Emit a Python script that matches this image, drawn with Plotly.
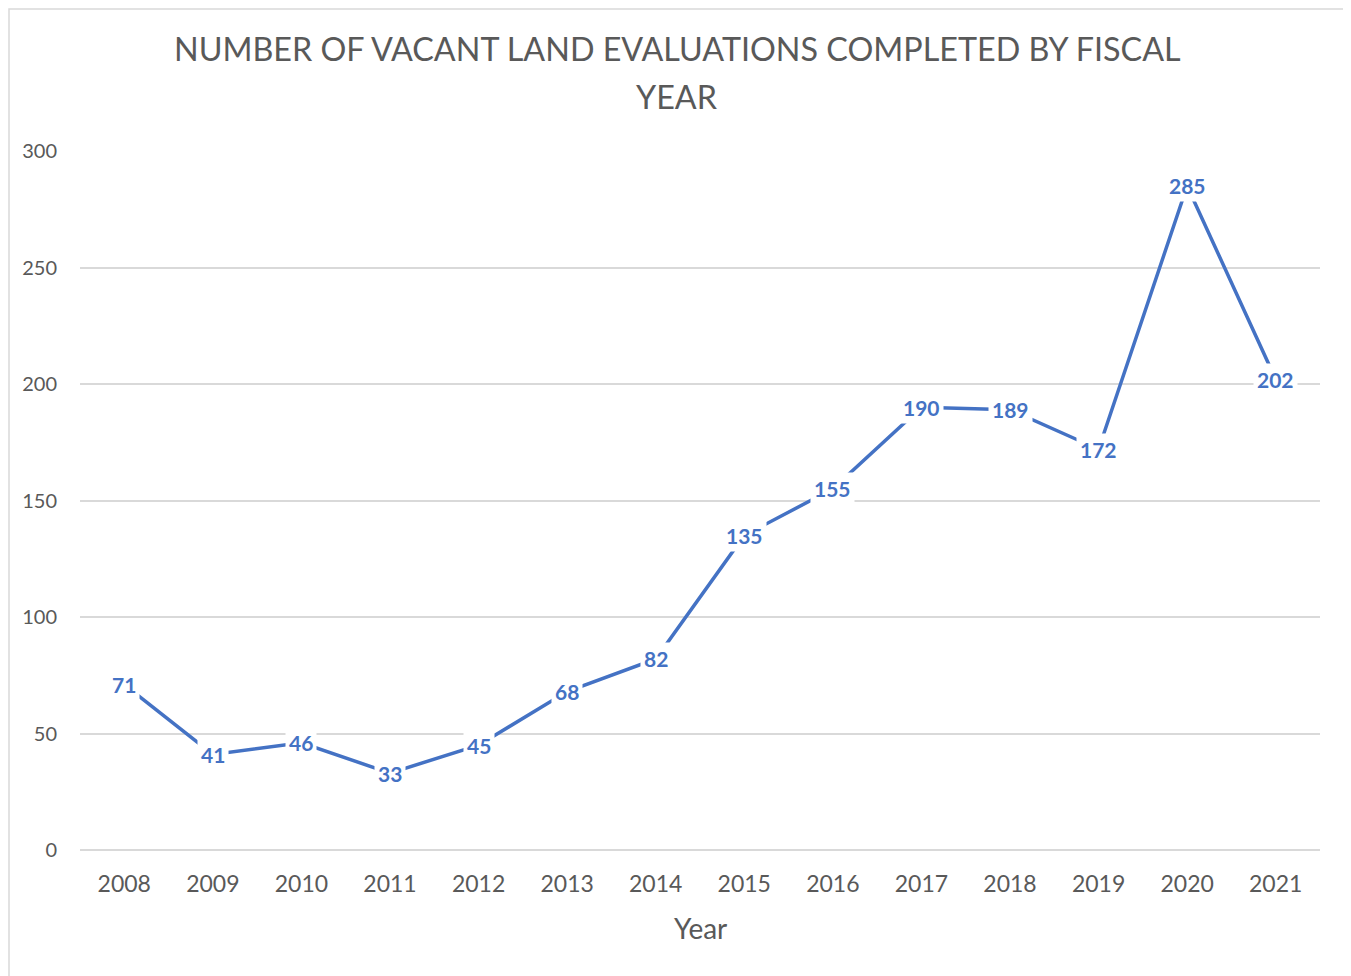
import plotly.graph_objects as go

years = ["2008", "2009", "2010", "2011", "2012", "2013", "2014",
         "2015", "2016", "2017", "2018", "2019", "2020", "2021"]
evaluations = [71, 41, 46, 33, 45, 68, 82, 135, 155, 190, 189, 172, 285, 202]
y_ticks = [0, 50, 100, 150, 200, 250, 300]

title_line1 = "NUMBER OF VACANT LAND EVALUATIONS COMPLETED BY FISCAL"
title_line2 = "YEAR"
x_title = "Year"

# page offset (body margin) compensation
OFF = 8
W, H = 1351 - OFF, 976 - OFF
PLOT_L, PLOT_R, PLOT_T, PLOT_B = 80, 1320, 151, 850  # target page pixels
L = PLOT_L - OFF
T = PLOT_T - OFF
R = W - (PLOT_R - OFF)
B = H - (PLOT_B - OFF)
PW, PH = PLOT_R - PLOT_L, PLOT_B - PLOT_T

def px_to_paper_x(px):
    return (px - PLOT_L) / PW

def px_to_paper_y(py):
    return (PLOT_B - py) / PH

LINE_COLOR = "#4472C4"
TEXT_COLOR = "#595959"
GRID_COLOR = "#D9D9D9"
FONT = "Lato, 'Open Sans', sans-serif"

fig = go.Figure()
fig.add_trace(go.Scatter(
    x=list(range(len(years))), y=evaluations, mode="lines",
    line=dict(color=LINE_COLOR, width=3.5), hoverinfo="skip", showlegend=False,
))

annotations = []
for i, v in enumerate(evaluations):
    annotations.append(dict(
        x=i, y=v, xref="x", yref="y", text=str(v), showarrow=False,
        font=dict(family=FONT, size=21, color=LINE_COLOR, weight="bold"),
        bgcolor="white", borderpad=3, xanchor="center", yanchor="middle",
    ))

annotations.append(dict(
    x=px_to_paper_x(677), y=px_to_paper_y(49), xref="paper", yref="paper",
    text=title_line1, showarrow=False, xanchor="center", yanchor="middle",
    font=dict(family=FONT, size=32.3, color=TEXT_COLOR),
))
annotations.append(dict(
    x=px_to_paper_x(677), y=px_to_paper_y(96), xref="paper", yref="paper",
    text=title_line2, showarrow=False, xanchor="center", yanchor="middle",
    font=dict(family=FONT, size=32.3, color=TEXT_COLOR),
))
annotations.append(dict(
    x=px_to_paper_x(700), y=px_to_paper_y(928), xref="paper", yref="paper",
    text=x_title, showarrow=False, xanchor="center", yanchor="middle",
    font=dict(family=FONT, size=28, color=TEXT_COLOR),
))

fig.update_layout(
    width=W, height=H,
    margin=dict(l=L, r=R, t=T, b=B),
    paper_bgcolor="white", plot_bgcolor="white",
    font=dict(family=FONT, color=TEXT_COLOR),
    annotations=annotations,
    shapes=[dict(
        type="rect", xref="paper", yref="paper",
        x0=px_to_paper_x(OFF + 1), x1=px_to_paper_x(1346),
        y0=px_to_paper_y(995), y1=px_to_paper_y(OFF + 1),
        line=dict(color=GRID_COLOR, width=1.5), fillcolor="rgba(0,0,0,0)",
        layer="below",
    )],
    xaxis=dict(
        range=[-0.5, len(years) - 0.5],
        tickmode="array", tickvals=list(range(len(years))), ticktext=years,
        showgrid=False, zeroline=False, showline=False, ticks="",
        tickfont=dict(family=FONT, size=23, color=TEXT_COLOR),
        ticklabelstandoff=18, fixedrange=True,
    ),
    yaxis=dict(
        range=[0, 300], tickmode="array", tickvals=y_ticks,
        ticktext=[str(t) for t in y_ticks],
        showgrid=True, gridcolor=GRID_COLOR, gridwidth=1.5,
        zeroline=True, zerolinecolor=GRID_COLOR, zerolinewidth=1.5,
        showline=False, ticks="",
        tickfont=dict(family=FONT, size=20, color=TEXT_COLOR),
        ticklabelstandoff=22, fixedrange=True,
    ),
)

fig.write_html("out.html")
